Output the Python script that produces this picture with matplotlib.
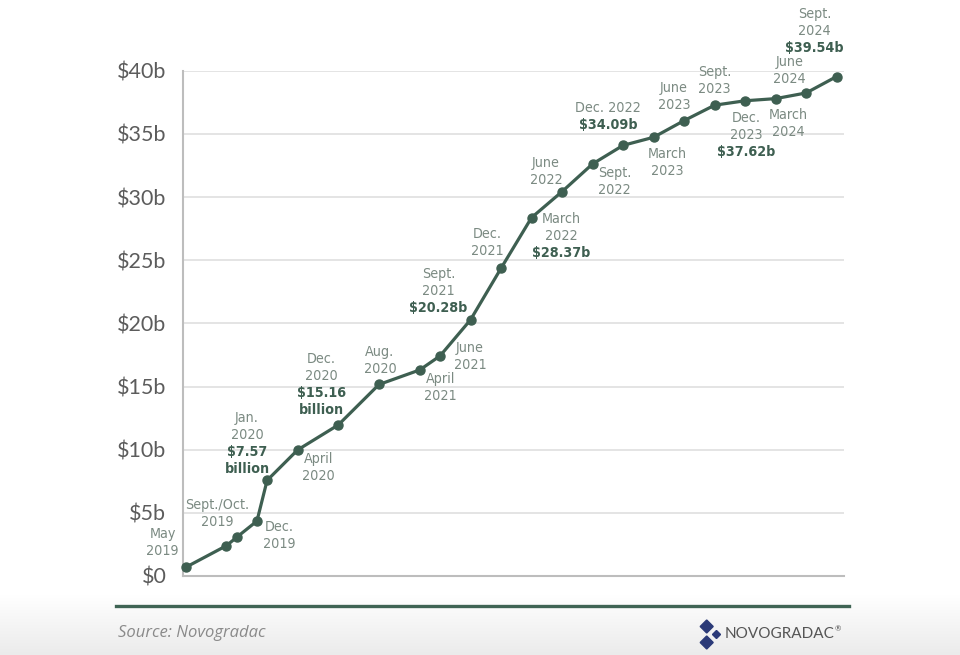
import matplotlib.pyplot as plt
import numpy as np
import pandas as pd
from matplotlib.colors import LinearSegmentedColormap
from matplotlib.lines import Line2D
from matplotlib.patches import Polygon

plt.rcParams['font.family'] = ['Lato', 'DejaVu Sans']

# reporting dates and cumulative totals ($ billions)
periods = ['2019-05', '2019-09', '2019-10', '2019-12', '2020-01', '2020-04',
           '2020-08', '2020-12', '2021-04', '2021-06', '2021-09', '2021-12',
           '2022-03', '2022-06', '2022-09', '2022-12', '2023-03', '2023-06',
           '2023-09', '2023-12', '2024-03', '2024-06', '2024-09']
totals = [0.69, 2.40, 3.06, 4.35, 7.57, 9.98,
          11.96, 15.16, 16.31, 17.42, 20.28, 24.36,
          28.37, 30.43, 32.62, 34.09, 34.73, 36.05,
          37.27, 37.62, 37.79, 38.24, 39.54]
yticks = [0, 5, 10, 15, 20, 25, 30, 35, 40]
ytick_labels = ['$0', '$5b', '$10b', '$15b', '$20b', '$25b', '$30b', '$35b', '$40b']

# point index, label text, offset in pixels from the point
labels = [
    (0, 'May\n2019', (-23, 25)),
    (1, 'Sept./Oct.\n2019', (-9, 32)),
    (3, 'Dec.\n2019', (22, -14)),
    (4, 'Jan.\n2020\n$7.57\nbillion', (-20, 37)),
    (5, 'April\n2020', (21, -18)),
    (6, 'Dec.\n2020\n$15.16\nbillion', (-17, 40)),
    (7, 'Aug.\n2020', (1, 24)),
    (8, 'April\n2021', (21, -18)),
    (9, 'June\n2021', (30, -1)),
    (10, 'Sept.\n2021\n$20.28b', (-32, 29)),
    (11, 'Dec.\n2021', (-14, 26)),
    (12, 'March\n2022\n$28.37b', (30, -18)),
    (13, 'June\n2022', (-16, 20)),
    (14, 'Sept.\n2022', (22, -18)),
    (15, 'Dec. 2022\n$34.09b', (-15, 29)),
    (16, 'March\n2023', (14, -25)),
    (17, 'June\n2023', (-10, 24)),
    (18, 'Sept.\n2023', (0, 25)),
    (19, 'Dec.\n2023\n$37.62b', (1, -34)),
    (20, 'March\n2024', (13, -25)),
    (21, 'June\n2024', (-17, 22)),
    (22, 'Sept.\n2024\n$39.54b', (-22, 46)),
]

green = '#3e5f51'
label_grey = '#7b8a82'

p = pd.PeriodIndex(periods, freq='M')
months = np.array((p.year - 2019) * 12 + p.month - 5)

W, H = 960, 655
fig = plt.figure(figsize=(9.6, 6.55), dpi=100)

# faint grey gradient in the footer strip
bg = fig.add_axes([0, 0, 1, 60 / H], zorder=-10)
grad = np.linspace(0, 1, 256)
bg.imshow(grad[:, None], aspect='auto', origin='upper', extent=[0, 1, 0, 1],
          cmap=LinearSegmentedColormap.from_list('g', ['#ffffff', '#ebebeb']))
bg.axis('off')

ax = fig.add_axes([183 / W, (H - 576) / H, (844 - 183) / W, (576 - 70.7) / H])
ax.plot(months, totals, color=green, lw=2.3, marker='o', ms=6.5, clip_on=False, zorder=3)

ax.set_xlim(-0.27, 64.72)
ax.set_ylim(0, 40)
ax.set_xticks([])
ax.set_yticks(yticks)
ax.set_yticklabels(ytick_labels, fontsize=15.5, color='#5c5c5c')
ax.tick_params(axis='y', length=0, pad=12)
ax.grid(axis='y', color='#e2e2e2', lw=1.3)
ax.set_axisbelow(True)
for side in ['top', 'right']:
    ax.spines[side].set_visible(False)
for side in ['left', 'bottom']:
    ax.spines[side].set_color('#bdbdbd')
    ax.spines[side].set_linewidth(1.5)

line_h = 17
for i, text, (dx, dy) in labels:
    lines = text.split('\n')
    n = len(lines)
    for k, ln in enumerate(lines):
        bold = ln.startswith('$') or ln == 'billion'
        ax.annotate(ln, xy=(months[i], totals[i]), xytext=(dx, dy + (n - 1) / 2 * line_h - k * line_h),
                    textcoords='offset pixels', ha='center', va='center', fontsize=10.3,
                    family='DejaVu Sans', fontstretch='condensed',
                    color=green if bold else label_grey, fontweight='bold' if bold else 'normal',
                    annotation_clip=False)

# footer
fig.add_artist(Line2D([115.7 / W, 849 / W], [(H - 606) / H] * 2, color='#3f6454', lw=2.4))
fig.text(118 / W, (H - 633) / H, 'Source: Novogradac', fontsize=12, style='italic',
         color='#8a8a8a', va='center', ha='left', family=['Open Sans', 'DejaVu Sans'])


def diamond(cx, cy, r):
    pts = [(cx - r, cy), (cx, cy - r), (cx + r, cy), (cx, cy + r)]
    return Polygon([(x / W, (H - y) / H) for x, y in pts], closed=True,
                   transform=fig.transFigure, color='#2b3a78')


for cx, cy, r in [(706.7, 626.5, 6.5), (716.5, 634.5, 4), (706.7, 642.5, 6.5)]:
    fig.add_artist(diamond(cx, cy, r))
fig.text(725 / W, (H - 634) / H, 'NOVOGRADAC', fontsize=11, color='#555555', va='center', ha='left')
fig.text(835 / W, (H - 629) / H, '®', fontsize=5.5, color='#555555', va='center', ha='left')

fig.savefig('out.png', dpi=100)
